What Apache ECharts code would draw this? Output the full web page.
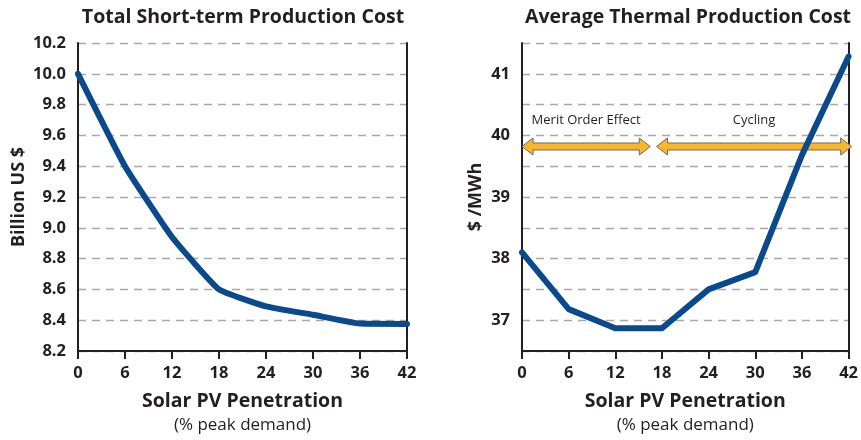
<!DOCTYPE html>
<html>
<head>
<meta charset="utf-8">
<script src="https://cdn.jsdelivr.net/npm/echarts@6/dist/echarts.min.js"></script>
<style>html,body{margin:0;padding:0;background:#fff}#c{width:861px;height:440px}</style>
</head>
<body>
<div id="c"></div>
<script>
// Data
var penetration = [0, 6, 12, 18, 24, 30, 36, 42];
var totalCost = [10.0, 9.40, 8.94, 8.60, 8.49, 8.435, 8.378, 8.376];
var thermalCost = [38.10, 37.18, 36.87, 36.87, 37.50, 37.78, 39.68, 41.28];
var xTicks = [0, 6, 12, 18, 24, 30, 36, 42];
var arrowStart = [0, 17.3];
var arrowEnd = [16.5, 42.4];
var arrowLevel = [39.82, 39.82];
var arrowLabels = ['Merit Order Effect', 'Cycling'];

var FONT = '"Open Sans", "Noto Sans", sans-serif';
var DARK = '#231f20';
var BLUE = '#0a4a8c';

var chart = echarts.init(document.getElementById('c'), null, {renderer: 'canvas'});

function xAxisDef(gi) {
  return {
    type: 'value', gridIndex: gi, min: xTicks[0], max: xTicks[xTicks.length - 1], interval: 6,
    axisLine: {show: true, onZero: false, lineStyle: {color: DARK, width: 2}},
    axisTick: {show: true, inside: false, length: 8, lineStyle: {color: DARK, width: 2}},
    axisLabel: {color: DARK, fontFamily: FONT, fontWeight: 'bold', fontSize: 16.5, margin: 14},
    splitLine: {show: false},
    name: '{a|Solar PV Penetration}\n{b|(% peak demand)}',
    nameLocation: 'middle', nameGap: 38,
    nameTextStyle: {
      rich: {
        a: {fontFamily: FONT, fontWeight: 'bold', fontSize: 19.5, color: DARK, lineHeight: 25},
        b: {fontFamily: FONT, fontSize: 17, color: DARK, lineHeight: 22}
      }
    }
  };
}

var arrowData = arrowStart.map(function (s, i) { return [s, arrowEnd[i], arrowLevel[i], arrowLabels[i]]; });

var option = {
  animation: false,
  backgroundColor: '#fff',
  title: [
    {text: 'Total Short-term Production Cost', left: 238, top: 2, textAlign: 'center',
     textStyle: {fontFamily: FONT, fontWeight: 'bold', fontSize: 19.5, color: DARK}},
    {text: 'Average Thermal Production Cost', left: 683, top: 2, textAlign: 'center',
     textStyle: {fontFamily: FONT, fontWeight: 'bold', fontSize: 19.5, color: DARK}}
  ],
  grid: [
    {left: 78, right: 454, top: 43, bottom: 89},
    {left: 522, right: 10, top: 43, bottom: 89}
  ],
  xAxis: [xAxisDef(0), xAxisDef(1)],
  yAxis: [
    {
      type: 'value', gridIndex: 0, min: 8.2, max: 10.2, interval: 0.2,
      axisLine: {show: true, lineStyle: {color: DARK, width: 2}},
      axisTick: {show: false},
      axisLabel: {color: DARK, fontFamily: FONT, fontWeight: 'bold', fontSize: 16.5, margin: 12,
        formatter: function (v) { return v.toFixed(1); }},
      splitLine: {show: true, lineStyle: {color: '#a8a8a8', width: 1.3, type: [8, 6]}},
      name: 'Billion US $', nameLocation: 'middle', nameGap: 50,
      nameTextStyle: {fontFamily: FONT, fontWeight: 'bold', fontSize: 18, color: DARK}
    },
    {
      type: 'value', gridIndex: 0, position: 'right', min: 8.2, max: 10.2, interval: 0.2,
      axisLine: {show: true, lineStyle: {color: DARK, width: 2}},
      axisTick: {show: false}, axisLabel: {show: false}, splitLine: {show: false}
    },
    {
      type: 'value', gridIndex: 1, min: 36.5, max: 41.5, interval: 0.5,
      axisLine: {show: true, lineStyle: {color: DARK, width: 2}},
      axisTick: {show: false},
      axisLabel: {color: DARK, fontFamily: FONT, fontWeight: 'bold', fontSize: 16.5, margin: 12,
        formatter: function (v) { return Math.abs(v - Math.round(v)) < 1e-6 ? String(Math.round(v)) : ''; }},
      splitLine: {show: true, lineStyle: {color: '#a8a8a8', width: 1.3, type: [8, 6]}},
      name: '$ /MWh', nameLocation: 'middle', nameGap: 37,
      nameTextStyle: {fontFamily: FONT, fontWeight: 'bold', fontSize: 18, color: DARK}
    },
    {
      type: 'value', gridIndex: 1, position: 'right', min: 36.5, max: 41.5, interval: 0.5,
      axisLine: {show: true, lineStyle: {color: DARK, width: 2}},
      axisTick: {show: false}, axisLabel: {show: false}, splitLine: {show: false}
    }
  ],
  series: [
    {
      type: 'line', xAxisIndex: 0, yAxisIndex: 0,
      data: penetration.map(function (x, i) { return [x, totalCost[i]]; }),
      smooth: 0.12, showSymbol: false, z: 5,
      lineStyle: {color: BLUE, width: 6, cap: 'round', join: 'round'}
    },
    {
      type: 'custom', xAxisIndex: 1, yAxisIndex: 2, z: 3,
      data: arrowData,
      encode: {x: [0, 1], y: 2},
      renderItem: function (params, api) {
        var a = api.coord([api.value(0), api.value(2)]);
        var b = api.coord([api.value(1), api.value(2)]);
        var h = 3.5, H = 8.5, L = 11;
        var y = a[1];
        var pts = [
          [a[0], y], [a[0] + L, y - H], [a[0] + L, y - h], [b[0] - L, y - h], [b[0] - L, y - H],
          [b[0], y], [b[0] - L, y + H], [b[0] - L, y + h], [a[0] + L, y + h], [a[0] + L, y + H]
        ];
        var label = arrowLabels[params.dataIndex];
        return {
          type: 'group',
          children: [
            {type: 'polygon', shape: {points: pts},
             style: {fill: '#fbb52a', stroke: '#6d6a66', lineWidth: 1}},
            {type: 'text',
             style: {text: label, x: (a[0] + b[0]) / 2, y: y - 26, align: 'center', verticalAlign: 'middle',
                     font: '13px ' + FONT, fill: DARK}}
          ]
        };
      }
    },
    {
      type: 'line', xAxisIndex: 1, yAxisIndex: 2,
      data: penetration.map(function (x, i) { return [x, thermalCost[i]]; }),
      smooth: false, showSymbol: false, z: 5,
      lineStyle: {color: BLUE, width: 6, cap: 'round', join: 'round'}
    }
  ]
};
chart.setOption(option);
</script>
</body>
</html>
